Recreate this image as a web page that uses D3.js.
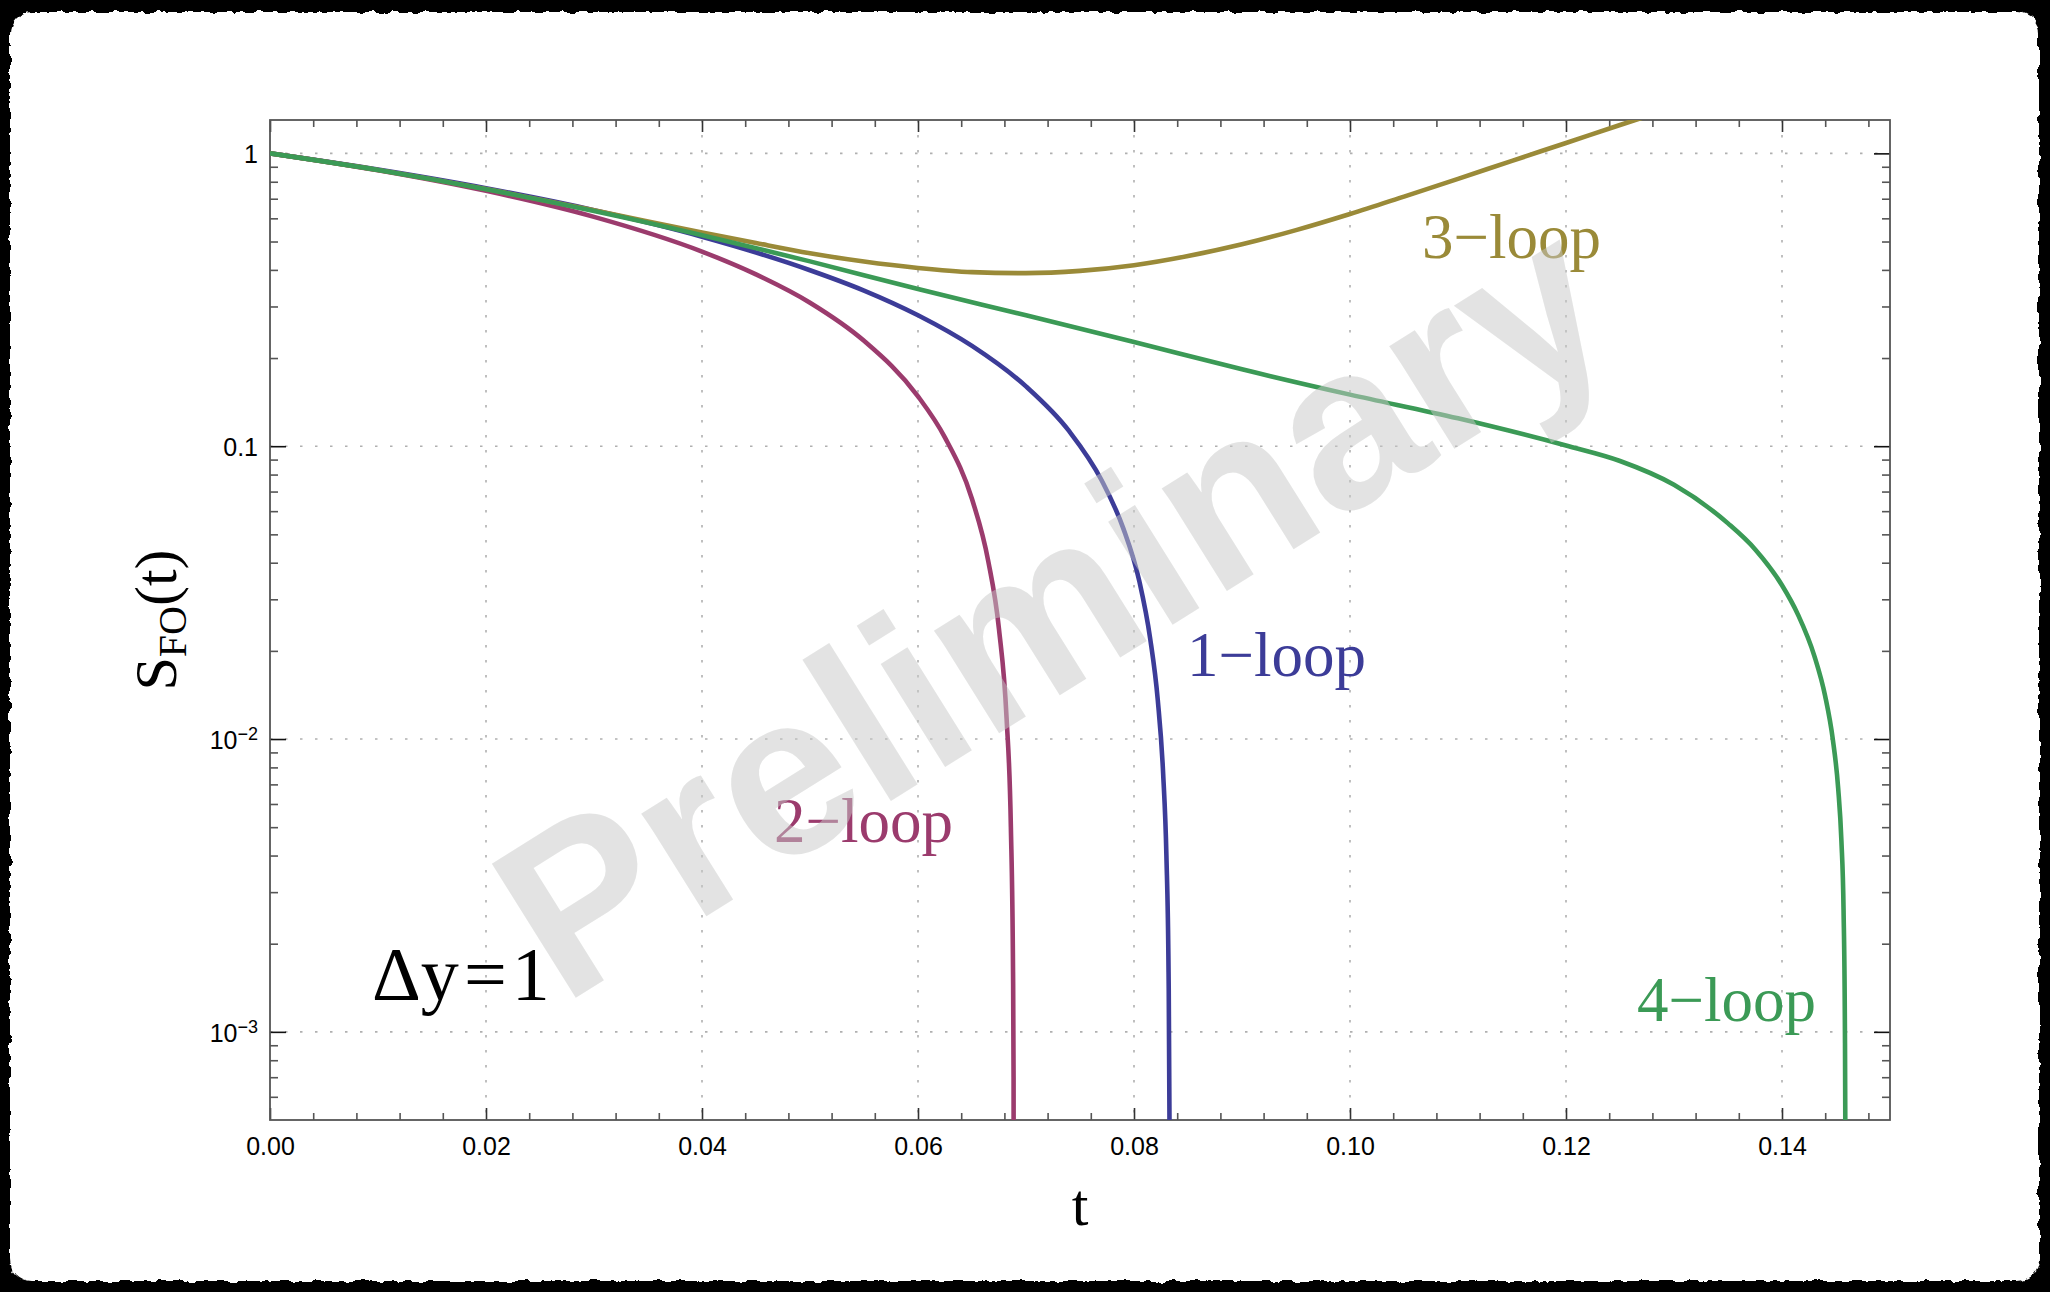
<!DOCTYPE html>
<html>
<head>
<meta charset="utf-8">
<script src="https://cdn.jsdelivr.net/npm/d3@7"></script>
<style>
  html, body { margin: 0; padding: 0; background: #000; }
  svg { display: block; }
</style>
</head>
<body>
<svg id="chart" width="2050" height="1292"></svg>
<script>
// ---- data: fixed-order Sudakov factor S_FO(t) at Δy = 1 ----
const tLoop1 = [0, 0.01, 0.02, 0.03, 0.04, 0.05, 0.055, 0.06, 0.065, 0.07, 0.074, 0.077, 0.079, 0.0805, 0.0815, 0.0822, 0.0827, 0.0830, 0.0832, 0.0833, 0.08333];
const sLoop1 = [1, 0.880, 0.760, 0.640, 0.519, 0.399, 0.340, 0.280, 0.220, 0.160, 0.1125, 0.0765, 0.0525, 0.0345, 0.022, 0.0136, 0.0076, 0.004, 0.0016, 0.0004, 0.00004];

const tLoop2 = [0, 0.01, 0.02, 0.03, 0.04, 0.045, 0.05, 0.055, 0.06, 0.0625, 0.065, 0.0665, 0.0675, 0.0682, 0.0686, 0.0688, 0.06885, 0.06889];
const sLoop2 = [1, 0.876, 0.745, 0.607, 0.462, 0.386, 0.309, 0.229, 0.148, 0.107, 0.066, 0.0406, 0.0237, 0.0118, 0.0050, 0.0016, 0.0007, 0.00001];

const tLoop3 = [0, 0.01, 0.02, 0.03, 0.04, 0.045, 0.05, 0.055, 0.06, 0.065, 0.07, 0.075, 0.08, 0.085, 0.09, 0.095, 0.10, 0.105, 0.11, 0.115, 0.12, 0.125, 0.13];
const sLoop3 = [1, 0.8775, 0.755, 0.639, 0.537, 0.494, 0.456, 0.427, 0.406, 0.393, 0.390, 0.397, 0.415, 0.446, 0.489, 0.547, 0.621, 0.712, 0.818, 0.943, 1.085, 1.250, 1.435];

const tLoop4 = [0, 0.01, 0.02, 0.03, 0.04, 0.05, 0.06, 0.07, 0.08, 0.09, 0.10, 0.11, 0.12, 0.125, 0.13, 0.135, 0.1375, 0.14, 0.1415, 0.143, 0.144, 0.1447, 0.1452, 0.1455, 0.1457, 0.14582, 0.1459, 0.14595];
const sLoop4 = [1, 0.877, 0.754, 0.6355, 0.5256, 0.4277, 0.344, 0.280, 0.227, 0.183, 0.150, 0.1245, 0.1005, 0.089, 0.0738, 0.0545, 0.0445, 0.0335, 0.0265, 0.0192, 0.0140, 0.0100, 0.0068, 0.0045, 0.0026, 0.0011, 0.0002, 0.00001];

const seriesNames = ["1\u2212loop", "2\u2212loop", "3\u2212loop", "4\u2212loop"];

const xMajorTicks = [0, 0.02, 0.04, 0.06, 0.08, 0.10, 0.12, 0.14];
const xMinorTicks = [0.004, 0.008, 0.012, 0.016, 0.024, 0.028, 0.032, 0.036, 0.044, 0.048, 0.052, 0.056,
                     0.064, 0.068, 0.072, 0.076, 0.084, 0.088, 0.092, 0.096, 0.104, 0.108, 0.112, 0.116,
                     0.124, 0.128, 0.132, 0.136, 0.144, 0.148];
const yMajorTicks = [1e-3, 1e-2, 1e-1, 1];
const yMinorTicks = [6e-4, 7e-4, 8e-4, 9e-4,
                     2e-3, 3e-3, 4e-3, 5e-3, 6e-3, 7e-3, 8e-3, 9e-3,
                     2e-2, 3e-2, 4e-2, 5e-2, 6e-2, 7e-2, 8e-2, 9e-2,
                     0.2, 0.3, 0.4, 0.5, 0.6, 0.7, 0.8, 0.9];

// ---- layout & style ----
const W = 2050, H = 1292;
const M = { left: 270, right: 1890, top: 120, bottom: 1120 };
const series = [
  { name: seriesNames[1], t: tLoop2, s: sLoop2, color: "#9b3b6d", lx: 774,  ly: 842 },
  { name: seriesNames[0], t: tLoop1, s: sLoop1, color: "#3c3c98", lx: 1187, ly: 676 },
  { name: seriesNames[2], t: tLoop3, s: sLoop3, color: "#9a8a38", lx: 1422, ly: 258 },
  { name: seriesNames[3], t: tLoop4, s: sLoop4, color: "#3b9a56", lx: 1637, ly: 1021 }
];

const svg = d3.select("#chart");

// framed sheet with a ragged edge
const defs = svg.append("defs");
const rough = defs.append("filter").attr("id", "rough")
  .attr("x", "-2%").attr("y", "-2%").attr("width", "104%").attr("height", "104%");
rough.append("feTurbulence").attr("type", "fractalNoise").attr("baseFrequency", "0.09")
  .attr("numOctaves", 3).attr("seed", 7).attr("result", "noise");
rough.append("feDisplacementMap").attr("in", "SourceGraphic").attr("in2", "noise")
  .attr("scale", 7).attr("xChannelSelector", "R").attr("yChannelSelector", "G");

defs.append("clipPath").attr("id", "plotClip")
  .append("rect").attr("x", M.left).attr("y", M.top)
  .attr("width", M.right - M.left).attr("height", M.bottom - M.top);

svg.append("rect").attr("width", W).attr("height", H).attr("fill", "#000");
svg.append("rect").attr("x", 10).attr("y", 12).attr("width", 2029).attr("height", 1269)
  .attr("rx", 22).attr("fill", "#fff").attr("filter", "url(#rough)");

const x = d3.scaleLinear().domain([0, 0.15]).range([M.left, M.right]);
const y = d3.scaleLog().domain([5e-4, 1.3]).range([M.bottom, M.top]);

// grid
const grid = svg.append("g").attr("stroke", "#b0b0b0").attr("stroke-width", 1.6)
  .attr("stroke-dasharray", "2.5,12.5");
grid.selectAll(".gx").data(xMajorTicks.slice(1)).join("line")
  .attr("x1", d => x(d)).attr("x2", d => x(d)).attr("y1", M.top).attr("y2", M.bottom);
grid.selectAll(".gy").data(yMajorTicks).join("line")
  .attr("x1", M.left).attr("x2", M.right).attr("y1", d => y(d)).attr("y2", d => y(d));

// axes
function styleAxis(g, color) {
  g.select(".domain").remove();
  g.selectAll(".tick line").attr("stroke", color).attr("stroke-width", 1.6);
  g.selectAll(".tick text").attr("font-family", "'Liberation Sans', Arial, sans-serif")
    .attr("font-size", 25).attr("fill", "#000");
}
svg.append("g").attr("transform", `translate(0,${M.bottom})`)
  .call(d3.axisBottom(x).tickValues(xMinorTicks).tickSize(-7).tickFormat(""))
  .call(g => styleAxis(g, "#555"));
svg.append("g").attr("transform", `translate(0,${M.bottom})`)
  .call(d3.axisBottom(x).tickValues(xMajorTicks).tickSize(-12).tickPadding(17).tickFormat(d3.format(".2f")))
  .call(g => styleAxis(g, "#333"));
svg.append("g").attr("transform", `translate(0,${M.top})`)
  .call(d3.axisTop(x).tickValues(xMinorTicks).tickSize(-7).tickFormat(""))
  .call(g => styleAxis(g, "#555"));
svg.append("g").attr("transform", `translate(0,${M.top})`)
  .call(d3.axisTop(x).tickValues(xMajorTicks).tickSize(-12).tickFormat(""))
  .call(g => styleAxis(g, "#333"));

svg.append("g").attr("transform", `translate(${M.left},0)`)
  .call(d3.axisLeft(y).tickValues(yMinorTicks).tickSize(-8).tickFormat(""))
  .call(g => styleAxis(g, "#555"));
const yLeft = svg.append("g").attr("transform", `translate(${M.left},0)`)
  .call(d3.axisLeft(y).tickValues(yMajorTicks).tickSize(-16).tickPadding(12).tickFormat(""))
  .call(g => styleAxis(g, "#111"));
yLeft.selectAll(".tick text").attr("dy", "0.38em").each(function (d) {
  const t = d3.select(this);
  if (d >= 0.1) {
    t.text(d === 1 ? "1" : "0.1");
  } else {
    const e = Math.round(Math.log10(d));
    t.append("tspan").text("10");
    t.append("tspan").attr("dy", "-0.5em").attr("font-size", 18).text("\u2212" + (-e));
  }
});
svg.append("g").attr("transform", `translate(${M.right},0)`)
  .call(d3.axisRight(y).tickValues(yMinorTicks).tickSize(-8).tickFormat(""))
  .call(g => styleAxis(g, "#555"));
svg.append("g").attr("transform", `translate(${M.right},0)`)
  .call(d3.axisRight(y).tickValues(yMajorTicks).tickSize(-16).tickFormat(""))
  .call(g => styleAxis(g, "#111"));

// frame
svg.append("rect").attr("x", M.left).attr("y", M.top)
  .attr("width", M.right - M.left).attr("height", M.bottom - M.top)
  .attr("fill", "none").attr("stroke", "#555").attr("stroke-width", 1.8);

// curves
const line = d3.line().x(d => x(d[0])).y(d => y(d[1])).curve(d3.curveMonotoneX);
const curves = svg.append("g").attr("clip-path", "url(#plotClip)");
series.forEach(sr => {
  curves.append("path")
    .datum(sr.t.map((t, i) => [t, sr.s[i]]))
    .attr("fill", "none").attr("stroke", sr.color).attr("stroke-width", 4.6)
    .attr("stroke-linejoin", "round").attr("d", line);
});

// curve labels
svg.append("g").selectAll("text").data(series).join("text")
  .attr("x", d => d.lx).attr("y", d => d.ly)
  .attr("font-family", "'Liberation Serif', 'Times New Roman', serif")
  .attr("font-size", 63).attr("fill", d => d.color)
  .text(d => d.name);

// Δy annotation
const dyText = svg.append("text").attr("x", 372).attr("y", 1000)
  .attr("font-family", "'Liberation Serif', 'Times New Roman', serif")
  .attr("font-size", 76).attr("fill", "#000");
dyText.append("tspan").text("\u0394y");
dyText.append("tspan").attr("dx", 5).text("=");
dyText.append("tspan").attr("dx", 5).text("1");

// axis titles
svg.append("text").attr("x", (M.left + M.right) / 2).attr("y", 1225)
  .attr("text-anchor", "middle")
  .attr("font-family", "'Liberation Serif', 'Times New Roman', serif")
  .attr("font-size", 60).text("t");

const yTitle = svg.append("text")
  .attr("transform", `translate(176,${(M.top + M.bottom) / 2}) rotate(-90)`)
  .attr("text-anchor", "middle")
  .attr("font-family", "'Liberation Serif', 'Times New Roman', serif")
  .attr("font-size", 60);
yTitle.append("tspan").text("S");
yTitle.append("tspan").attr("font-size", 40).attr("dy", 10).text("FO");
yTitle.append("tspan").attr("dy", -10).text("(t)");

// watermark
svg.append("text")
  .attr("transform", "translate(1094,674) rotate(-32)")
  .attr("text-anchor", "middle")
  .attr("font-family", "'Liberation Sans', Arial, sans-serif")
  .attr("font-weight", "bold").attr("font-size", 230)
  .attr("fill", "#c8c9c8").attr("opacity", 0.5)
  .text("Preliminary");
</script>
</body>
</html>
